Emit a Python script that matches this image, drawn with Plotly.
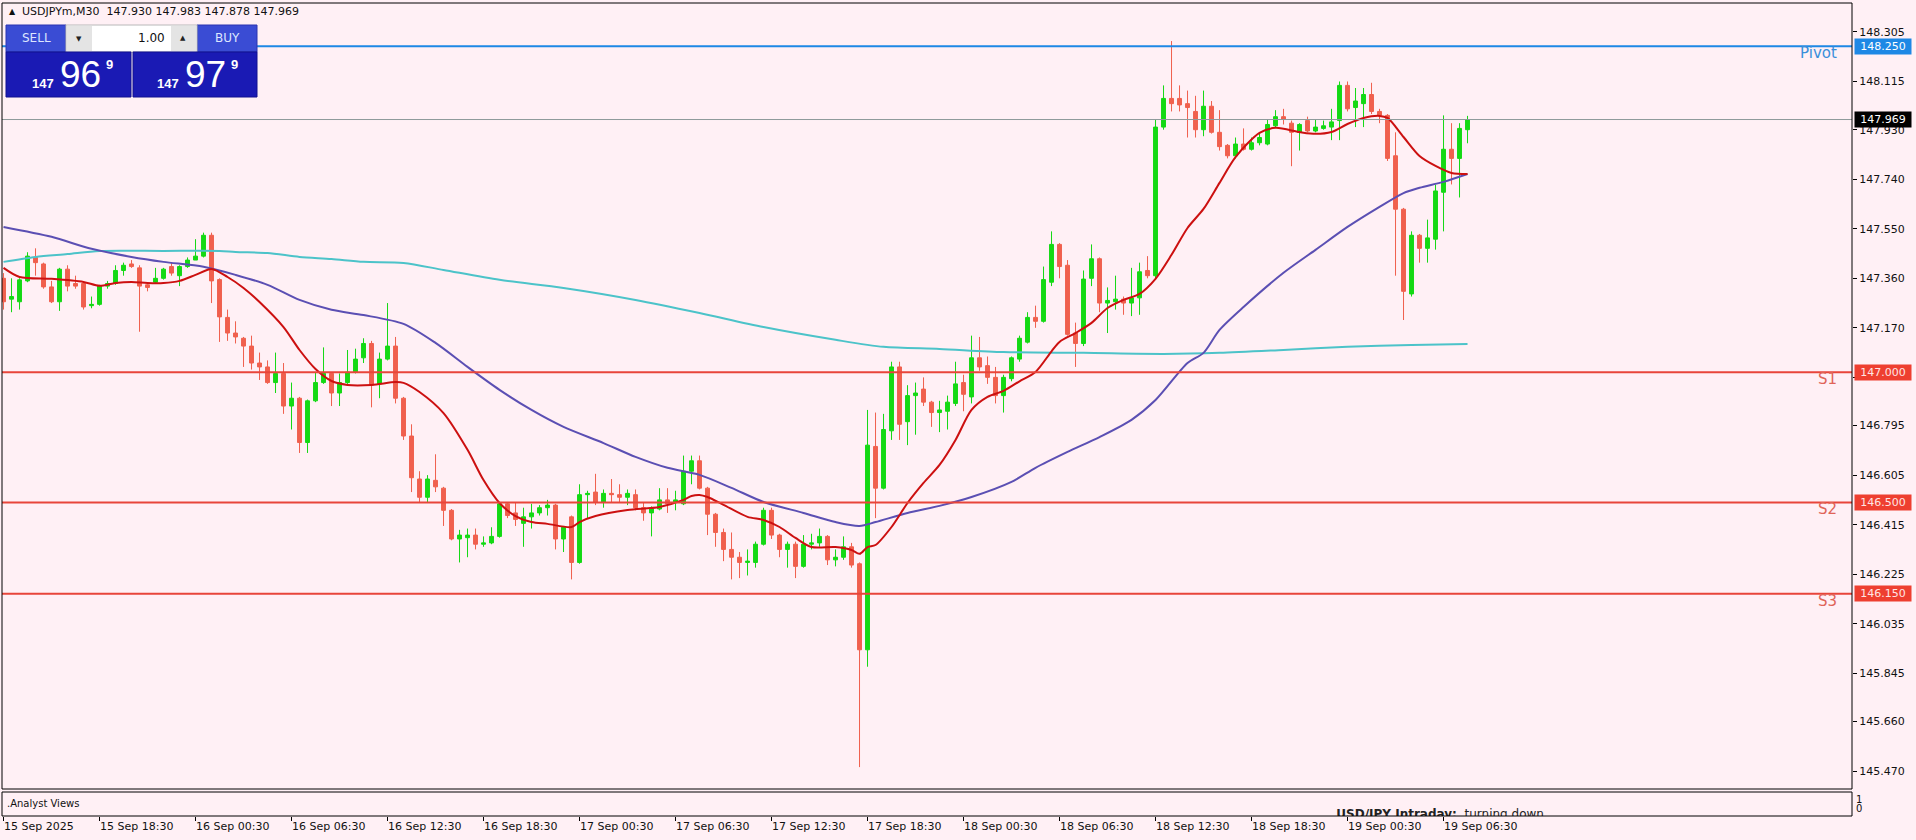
import plotly.graph_objects as go

# ---------------- data ----------------
symbol = "USDJPYm,M30"
x_labels = ["15 Sep 2025", "15 Sep 18:30", "16 Sep 00:30", "16 Sep 06:30", "16 Sep 12:30",
            "16 Sep 18:30", "17 Sep 00:30", "17 Sep 06:30", "17 Sep 12:30", "17 Sep 18:30",
            "18 Sep 00:30", "18 Sep 06:30", "18 Sep 12:30", "18 Sep 18:30", "19 Sep 00:30",
            "19 Sep 06:30"]
x_label_bars = [0, 12, 24, 36, 48, 60, 72, 84, 96, 108, 120, 132, 144, 156, 168, 180]

price_ticks = [148.305, 148.115, 147.930, 147.740, 147.550, 147.360, 147.170, 146.980,
               146.795, 146.605, 146.415, 146.225, 146.035, 145.845, 145.660, 145.470]
# tick labels hidden behind the level boxes in the reference
hidden_ticks = [146.980]

opens = [
    147.36, 147.28, 147.27, 147.35, 147.44, 147.415, 147.327, 147.27, 147.395, 147.34,
    147.34, 147.255, 147.26, 147.33, 147.34, 147.39, 147.415, 147.40, 147.335, 147.345,
    147.36, 147.405, 147.37, 147.405, 147.43, 147.445, 147.525, 147.355, 147.21, 147.15,
    147.13, 147.10, 147.035, 147.02, 146.96, 146.995, 146.87, 146.90, 146.73, 146.89,
    146.96, 146.995, 146.92, 146.96, 147.00, 147.055, 147.11, 146.955, 147.05, 147.10,
    146.90, 146.755, 146.59, 146.52, 146.585, 146.555, 146.47, 146.36, 146.365, 146.375,
    146.34, 146.345, 146.37, 146.495, 146.46, 146.42, 146.445, 146.46, 146.48, 146.49,
    146.36, 146.445, 146.27, 146.53, 146.54, 146.50, 146.535, 146.53, 146.52, 146.53,
    146.48, 146.46, 146.475, 146.51, 146.50, 146.495, 146.62, 146.66, 146.555, 146.455,
    146.385, 146.32, 146.29, 146.27, 146.27, 146.34, 146.47, 146.375, 146.32, 146.34,
    146.255, 146.34, 146.345, 146.37, 146.28, 146.29, 146.33, 146.265, 145.935, 146.715,
    146.555, 146.775, 147.02, 146.81, 146.91, 146.935, 146.885, 146.845, 146.85, 146.88,
    146.96, 146.905, 147.055, 147.025, 146.98, 146.91, 146.975, 147.05, 147.115, 147.21,
    147.195, 147.345, 147.49, 147.41, 147.15, 147.11, 147.36, 147.435, 147.265, 147.27,
    147.28, 147.265, 147.285, 147.39, 147.37, 147.94, 148.05, 148.05, 148.03, 148.00,
    147.93, 148.02, 147.92, 147.87, 147.83, 147.875, 147.855, 147.88, 147.875, 147.945,
    147.98, 147.955, 147.92, 147.965, 147.925, 147.935, 147.94, 147.965, 148.10, 148.015,
    148.03, 148.065, 148.00, 147.985, 147.83, 147.625, 147.30, 147.525, 147.475, 147.51,
    147.69, 147.855, 147.82, 147.930]
highs = [
    147.38, 147.36, 147.36, 147.46, 147.475, 147.42, 147.35, 147.40, 147.41, 147.37,
    147.345, 147.29, 147.335, 147.35, 147.41, 147.42, 147.43, 147.41, 147.34, 147.40,
    147.40, 147.42, 147.41, 147.44, 147.51, 147.535, 147.535, 147.36, 147.24, 147.195,
    147.135, 147.14, 147.075, 147.045, 147.075, 147.035, 146.96, 146.905, 146.895, 147.00,
    147.095, 147.00, 146.995, 147.085, 147.09, 147.13, 147.12, 147.075, 147.265, 147.135,
    146.905, 146.80, 146.62, 146.605, 146.685, 146.56, 146.475, 146.395, 146.40, 146.40,
    146.37, 146.405, 146.50, 146.50, 146.50, 146.48, 146.495, 146.49, 146.51, 146.495,
    146.41, 146.45, 146.57, 146.545, 146.61, 146.55, 146.59, 146.57, 146.55, 146.55,
    146.50, 146.485, 146.555, 146.555, 146.545, 146.68, 146.68, 146.68, 146.56, 146.46,
    146.40, 146.385, 146.31, 146.32, 146.35, 146.48, 146.48, 146.38, 146.35, 146.35,
    146.375, 146.38, 146.40, 146.375, 146.32, 146.37, 146.345, 146.27, 146.855, 146.845,
    146.84, 147.04, 147.04, 146.95, 146.96, 146.98, 146.89, 146.89, 146.91, 147.04,
    146.99, 147.14, 147.135, 147.06, 147.02, 146.99, 147.06, 147.14, 147.23, 147.255,
    147.405, 147.54, 147.495, 147.43, 147.19, 147.39, 147.49, 147.44, 147.325, 147.37,
    147.29, 147.40, 147.42, 147.445, 147.97, 148.10, 148.27, 148.10, 148.08, 148.06,
    148.08, 148.04, 148.005, 147.875, 147.90, 147.935, 147.90, 147.92, 147.97, 148.005,
    148.01, 147.965, 147.955, 147.98, 147.97, 147.965, 148.01, 148.115, 148.115, 148.09,
    148.09, 148.11, 148.01, 147.99, 147.92, 147.63, 147.54, 147.53, 147.585, 147.72,
    147.985, 147.955, 147.955, 147.983]
lows = [
    147.24, 147.23, 147.24, 147.345, 147.37, 147.32, 147.265, 147.235, 147.31, 147.32,
    147.24, 147.245, 147.255, 147.32, 147.335, 147.37, 147.40, 147.155, 147.31, 147.34,
    147.355, 147.37, 147.33, 147.40, 147.43, 147.44, 147.265, 147.116, 147.12, 147.11,
    147.02, 147.01, 146.97, 146.955, 146.92, 146.84, 146.78, 146.69, 146.69, 146.885,
    146.955, 146.87, 146.87, 146.955, 146.995, 147.035, 146.865, 146.90, 147.045, 146.88,
    146.74, 146.54, 146.50, 146.50, 146.54, 146.41, 146.355, 146.27, 146.29, 146.32,
    146.33, 146.34, 146.365, 146.44, 146.41, 146.33, 146.40, 146.45, 146.45, 146.32,
    146.31, 146.205, 146.265, 146.44, 146.49, 146.48, 146.50, 146.50, 146.49, 146.47,
    146.43, 146.37, 146.47, 146.46, 146.47, 146.49, 146.57, 146.55, 146.375, 146.33,
    146.275, 146.205, 146.21, 146.22, 146.25, 146.335, 146.36, 146.29, 146.25, 146.21,
    146.25, 146.32, 146.33, 146.26, 146.255, 146.28, 146.25, 145.485, 145.87, 146.44,
    146.55, 146.74, 146.74, 146.72, 146.76, 146.87, 146.79, 146.77, 146.78, 146.87,
    146.85, 146.88, 147.005, 146.955, 146.88, 146.845, 146.965, 147.04, 147.11, 147.17,
    147.19, 147.33, 147.36, 147.14, 147.02, 147.10, 147.33, 147.23, 147.15, 147.24,
    147.22, 147.215, 147.22, 147.36, 147.36, 147.93, 148.00, 148.00, 147.90, 147.90,
    147.905, 147.915, 147.85, 147.82, 147.82, 147.85, 147.85, 147.87, 147.87, 147.94,
    147.95, 147.79, 147.85, 147.92, 147.92, 147.93, 147.89, 147.89, 148.00, 147.94,
    147.94, 147.99, 147.955, 147.81, 147.37, 147.20, 147.29, 147.42, 147.42, 147.47,
    147.54, 147.72, 147.67, 147.878]
closes = [
    147.27, 147.29, 147.354, 147.445, 147.42, 147.327, 147.27, 147.395, 147.33, 147.33,
    147.25, 147.26, 147.33, 147.34, 147.39, 147.41, 147.405, 147.33, 147.325, 147.36,
    147.395, 147.38, 147.405, 147.43, 147.445, 147.525, 147.35, 147.212, 147.15, 147.135,
    147.10, 147.035, 147.02, 146.96, 146.995, 146.87, 146.90, 146.73, 146.89, 146.96,
    146.995, 146.92, 146.96, 147.00, 147.05, 147.11, 146.95, 147.05, 147.10, 146.90,
    146.755, 146.595, 146.52, 146.59, 146.56, 146.47, 146.36, 146.375, 146.375, 146.34,
    146.345, 146.37, 146.495, 146.45, 146.435, 146.445, 146.46, 146.48, 146.49, 146.36,
    146.405, 146.27, 146.53, 146.535, 146.50, 146.535, 146.53, 146.52, 146.535, 146.48,
    146.46, 146.475, 146.51, 146.495, 146.51, 146.62, 146.66, 146.555, 146.455, 146.385,
    146.32, 146.29, 146.27, 146.275, 146.34, 146.47, 146.375, 146.32, 146.34, 146.255,
    146.34, 146.345, 146.37, 146.28, 146.29, 146.33, 146.26, 145.935, 146.72, 146.555,
    146.78, 147.02, 146.80, 146.91, 146.92, 146.885, 146.845, 146.855, 146.885, 146.955,
    146.915, 147.055, 147.02, 146.98, 146.91, 146.98, 147.055, 147.13, 147.21, 147.195,
    147.355, 147.49, 147.405, 147.145, 147.11, 147.357, 147.435, 147.265, 147.275, 147.28,
    147.265, 147.285, 147.385, 147.37, 147.94, 148.05, 148.03, 148.025, 148.015, 147.93,
    148.02, 147.92, 147.865, 147.83, 147.875, 147.855, 147.88, 147.90, 147.95, 147.98,
    147.97, 147.92, 147.95, 147.925, 147.94, 147.945, 147.96, 148.10, 148.01, 148.04,
    148.065, 148.00, 147.985, 147.82, 147.625, 147.31, 147.525, 147.475, 147.515, 147.695,
    147.855, 147.82, 147.935, 147.969]

# fast moving average (red), read at selected bars
ma_fast_bars = [0, 2, 6, 10, 12, 14, 16, 18, 20, 22, 24, 26, 28, 30, 32, 35, 37, 39, 41, 43,
                46, 49, 50, 52, 55, 58, 60, 62, 64, 66, 68, 71, 72, 74, 78, 82, 85, 86, 87, 88,
                90, 93, 95, 97, 99, 101, 104, 106, 107, 108, 109, 111, 113, 115, 117, 119, 121,
                123, 125, 127, 129, 131, 132, 134, 136, 138, 140, 142, 144, 146, 148, 150, 152,
                154, 157, 159, 162, 164, 166, 168, 170, 172, 173, 175, 177, 179, 181, 183]
ma_fast_vals = [147.400, 147.365, 147.358, 147.346, 147.331, 147.342, 147.346, 147.342, 147.342,
                147.350, 147.373, 147.396, 147.365, 147.323, 147.269, 147.173, 147.085, 147.012,
                146.966, 146.951, 146.951, 146.962, 146.959, 146.924, 146.843, 146.702, 146.586,
                146.498, 146.448, 146.425, 146.418, 146.406, 146.425, 146.448, 146.471, 146.483,
                146.510, 146.525, 146.529, 146.521, 146.491, 146.445, 146.433, 146.406, 146.364,
                146.329, 146.329, 146.318, 146.303, 146.329, 146.337, 146.406, 146.498, 146.575,
                146.644, 146.740, 146.855, 146.905, 146.928, 146.965, 147.001, 147.080, 147.116,
                147.150, 147.189, 147.246, 147.277, 147.300, 147.358, 147.450, 147.553, 147.626,
                147.726, 147.825, 147.918, 147.937, 147.921, 147.914, 147.921, 147.952, 147.975,
                147.983, 147.975, 147.902, 147.829, 147.791, 147.764, 147.760]

# medium moving average (slate blue)
ma_mid_bars = [0, 6, 11, 16, 20, 25, 29, 33, 37, 41, 45, 50, 54, 58, 62, 66, 70, 75, 79, 83, 87,
               91, 95, 100, 104, 107, 109, 113, 117, 121, 126, 129, 133, 137, 141, 144, 148, 150,
               152, 155, 160, 164, 168, 172, 175, 177, 180, 183]
ma_mid_vals = [147.557, 147.519, 147.473, 147.442, 147.423, 147.404, 147.373, 147.335, 147.277,
               147.239, 147.219, 147.185, 147.112, 147.020, 146.932, 146.855, 146.790, 146.728,
               146.675, 146.633, 146.606, 146.556, 146.502, 146.460, 146.425, 146.410, 146.425,
               146.460, 146.487, 146.521, 146.579, 146.633, 146.694, 146.751, 146.817, 146.893,
               147.035, 147.074, 147.162, 147.250, 147.381, 147.469, 147.557, 147.634, 147.687,
               147.707, 147.730, 147.760]

# slow moving average (turquoise)
ma_slow_bars = [0, 4, 8, 12, 20, 27, 29, 33, 37, 41, 45, 50, 55, 62, 70, 79, 87, 95, 104, 110,
                117, 125, 135, 145, 152, 160, 168, 176, 183]
ma_slow_vals = [147.423, 147.442, 147.453, 147.465, 147.465, 147.465, 147.461, 147.457, 147.442,
                147.434, 147.423, 147.419, 147.392, 147.354, 147.323, 147.277, 147.227, 147.173,
                147.124, 147.097, 147.089, 147.077, 147.074, 147.070, 147.074, 147.085, 147.097,
                147.104, 147.108]

pivot_level = 148.250
support_levels = [147.000, 146.500, 146.150]
support_names = ["S1", "S2", "S3"]
bid_price = 147.969
ask_price = 147.979
lot_size = "1.00"
sub_title = ".Analyst Views"
sub_text = "<b>USD/JPY Intraday:</b>\u00a0\u00a0turning down."

# ---------------- style ----------------
BG = "#FFF0F5"
BULL = "#14D914"
BEAR = "#F0604E"
RED_MA = "#CC1010"
BLUE_MA = "#5B4FB3"
TURQ_MA = "#4CC3C9"
PIVOT_C = "#1E88E5"
S_C = "#E8453A"
S_TXT = "#E06458"
FONT = "DejaVu Sans"

# pixel geometry of the plot area (layout only)
PL, PR, PT, PB = 2, 1852, 3, 816
W, H = PR - PL, PB - PT
MAIN_BOTTOM, SUB_TOP = 789, 792


def fx(x):
    return (x - PL) / W


def fy(y):
    return (PB - y) / H


idx = list(range(len(opens)))

fig = go.Figure()

fig.add_trace(go.Candlestick(
    x=idx, open=opens, high=highs, low=lows, close=closes,
    increasing=dict(line=dict(color=BULL, width=1), fillcolor=BULL),
    decreasing=dict(line=dict(color=BEAR, width=1), fillcolor=BEAR),
    whiskerwidth=0, showlegend=False, hoverinfo="skip", xaxis="x", yaxis="y"))

for bx, vals, col in [(ma_slow_bars, ma_slow_vals, TURQ_MA),
                      (ma_mid_bars, ma_mid_vals, BLUE_MA),
                      (ma_fast_bars, ma_fast_vals, RED_MA)]:
    fig.add_trace(go.Scatter(x=bx, y=vals, mode="lines",
                             line=dict(color=col, width=2, shape="spline", smoothing=0.8),
                             showlegend=False, hoverinfo="skip", xaxis="x", yaxis="y"))

fig.add_trace(go.Scatter(x=[166.6], y=[0.06], mode="text", text=[sub_text],
                         textposition="middle right",
                         textfont=dict(family=FONT, size=12, color="#222222"),
                         cliponaxis=True, showlegend=False, hoverinfo="skip",
                         xaxis="x", yaxis="y2"))

shapes = []
# level lines
shapes.append(dict(type="line", xref="paper", yref="y", x0=0, x1=1, y0=closes[-1], y1=closes[-1],
                   line=dict(color="#8E9A9A", width=1)))
shapes.append(dict(type="line", xref="paper", yref="y", x0=0, x1=1, y0=pivot_level, y1=pivot_level,
                   line=dict(color=PIVOT_C, width=2)))
for lv in support_levels:
    shapes.append(dict(type="line", xref="paper", yref="y", x0=0, x1=1, y0=lv, y1=lv,
                       line=dict(color=S_C, width=2)))
# frames
shapes.append(dict(type="rect", xref="paper", yref="paper", x0=0, x1=1, y0=fy(MAIN_BOTTOM), y1=1,
                   line=dict(color="black", width=1), fillcolor="rgba(0,0,0,0)"))
shapes.append(dict(type="rect", xref="paper", yref="paper", x0=0, x1=1, y0=0, y1=fy(SUB_TOP),
                   line=dict(color="black", width=1), fillcolor="rgba(0,0,0,0)"))


def prect(x0, y0, x1, y1, fill, line="rgba(0,0,0,0)"):
    shapes.append(dict(type="rect", xref="paper", yref="paper",
                       x0=fx(x0), x1=fx(x1), y0=fy(y1), y1=fy(y0),
                       fillcolor=fill, line=dict(color=line, width=1), layer="above"))


# trade panel
prect(6, 25, 66, 52, "#3A4CD4", "#2A35B0")
prect(197, 25, 257, 52, "#3A4CD4", "#2A35B0")
prect(66, 25, 197, 52, "#FFFFFF", "#B8B8B8")
prect(67, 26, 92, 51, "#E4E4E4")
prect(171, 26, 196, 51, "#E4E4E4")
prect(6, 52, 131, 97, "#1A1AB4", "#101090")
prect(133, 52, 257, 97, "#1A1AB4", "#101090")

ann = []


def ptext(x, y, text, size, color, xanchor="left", family=FONT, yanchor="middle"):
    ann.append(dict(x=fx(x), y=fy(y), xref="paper", yref="paper", text=text, showarrow=False,
                    xanchor=xanchor, yanchor=yanchor,
                    font=dict(family=family, size=size, color=color)))


# header
ptext(7, 12, "\u25B2", 8, "#111111")
ptext(20, 12, symbol + "\u00a0\u00a0" + " ".join(f"{v:.3f}" for v in
                                                  (opens[-1], highs[-1], lows[-1], closes[-1])),
      11, "#111111")
ptext(36, 38, "SELL", 12, "#DDE6FF", xanchor="center")
ptext(227, 38, "BUY", 12, "#DDE6FF", xanchor="center")
ptext(79, 39, "\u25BC", 7, "#222222", xanchor="center")
ptext(183, 38, "\u25B2", 7, "#222222", xanchor="center")
ptext(167, 38, lot_size, 12, "#111111", xanchor="right")
for base_x, price in [(30, bid_price), (155, ask_price)]:
    s = f"{price:.3f}"
    big, small = s.split(".")[1][:2], s.split(".")[1][2]
    ptext(base_x, 83, "<b>" + s.split(".")[0] + "</b>", 13, "white", family="Liberation Sans")
    ptext(base_x + 28, 74, big, 37, "white", family="Liberation Sans")
    ptext(base_x + 74, 65, "<b>" + small + "</b>", 13, "white", family="Liberation Sans")

# right price boxes
for val, bg, fg in [(pivot_level, PIVOT_C, "white"), (closes[-1], "black", "white")] + \
        [(lv, "#EE3F30", "#FFE4E4") for lv in support_levels]:
    ann.append(dict(x=1, xref="paper", xanchor="left", xshift=2, y=val, yref="y",
                    yanchor="middle", text=f"{val:.3f}", showarrow=False, bgcolor=bg,
                    width=54, height=13, borderpad=1,
                    font=dict(family=FONT, size=11, color=fg)))

# level names
ann.append(dict(x=fx(1839), xref="paper", xanchor="right", y=pivot_level, yref="y",
                yanchor="top", yshift=4, text="Pivot", showarrow=False,
                font=dict(family=FONT, size=15, color="#3A8FDA")))
for lv, nm in zip(support_levels, support_names):
    ann.append(dict(x=fx(1839), xref="paper", xanchor="right", y=lv, yref="y",
                    yanchor="top", yshift=4, text=nm, showarrow=False,
                    font=dict(family=FONT, size=15, color=S_TXT)))

# sub window texts
ptext(5, 803, sub_title, 10, "#111111")
ann.append(dict(x=1, xref="paper", xanchor="left", xshift=2, y=fy(799), yref="paper",
                yanchor="middle", text="1", showarrow=False, font=dict(family=FONT, size=10, color="#111")))
ann.append(dict(x=1, xref="paper", xanchor="left", xshift=2, y=fy(808), yref="paper",
                yanchor="middle", text="0", showarrow=False, font=dict(family=FONT, size=10, color="#111")))

fig.update_layout(
    width=1916, height=840,
    margin=dict(l=PL, r=1916 - PR, t=PT, b=840 - PB),
    paper_bgcolor=BG, plot_bgcolor=BG,
    showlegend=False, hovermode=False,
    shapes=shapes, annotations=ann,
    xaxis=dict(domain=[0, 1], range=[-0.19, 231.06], anchor="free", position=0,
               tickvals=x_label_bars, ticktext=x_labels, ticks="outside", ticklen=4,
               tickcolor="black", ticklabelposition="outside right",
               tickfont=dict(family=FONT, size=11, color="#111111"),
               showgrid=False, zeroline=False, showline=False,
               rangeslider=dict(visible=False), fixedrange=True),
    yaxis=dict(domain=[fy(MAIN_BOTTOM), 1], range=[145.401, 148.416], anchor="x", side="right",
               tickvals=price_ticks,
               ticktext=["" if v in hidden_ticks else f"{v:.3f}" for v in price_ticks],
               ticks="outside", ticklen=4, tickcolor="black",
               tickfont=dict(family=FONT, size=11, color="#111111"),
               showgrid=False, zeroline=False, showline=False, fixedrange=True),
    yaxis2=dict(domain=[0, fy(SUB_TOP)], range=[0, 1], anchor="x", visible=False,
                fixedrange=True),
)

fig.write_html("out.html", config={"displayModeBar": False},
               post_script="document.body.style.margin='0';document.body.style.overflow='hidden';")
